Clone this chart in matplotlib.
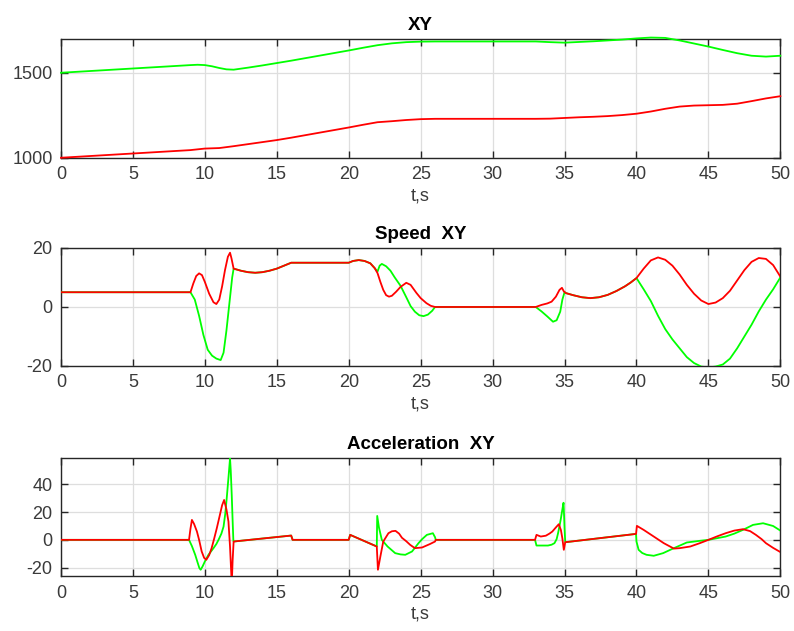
import matplotlib
matplotlib.use("Agg")
import matplotlib.pyplot as plt

plt.rcParams['font.family'] = ['Liberation Sans', 'DejaVu Sans']
plt.rcParams['axes.unicode_minus'] = False

# ---- position X (red) / Y (green), 0..50 s ----
t_pos_x = [0, 2, 4, 6, 8, 9, 10, 11, 12, 13, 14, 15, 16, 17, 18, 19, 20, 21, 22, 23,
           24, 25, 26, 30, 33, 34, 35, 36, 37, 38, 39, 40, 41, 42, 43, 44, 45, 46,
           47, 48, 49, 50]
pos_x = [1000, 1010, 1020, 1030, 1040, 1045, 1054, 1057, 1068, 1080, 1092, 1104, 1118,
         1133, 1148, 1163, 1178, 1194, 1209, 1215, 1222, 1227, 1229, 1229, 1229, 1230,
         1234, 1238, 1241, 1245, 1251, 1259, 1272, 1288, 1301, 1307, 1309, 1311, 1318,
         1333, 1349, 1362]

t_pos_y = [0, 2, 4, 6, 8, 9, 9.5, 10, 10.5, 11, 11.5, 12, 13, 14, 15, 16, 17, 18, 19, 20,
           21, 22, 23, 24, 25, 26, 33, 34, 35, 36, 37, 38, 39, 40, 41, 42, 43, 44, 45,
           46, 47, 48, 49, 50]
pos_y = [1500, 1510, 1520, 1530, 1540, 1545, 1547, 1545, 1538, 1528, 1520, 1518, 1530,
         1543, 1557, 1571, 1586, 1601, 1616, 1631, 1647, 1662, 1673, 1680, 1683, 1684,
         1684, 1680, 1677, 1681, 1685, 1690, 1695, 1702, 1707, 1705, 1690, 1672, 1654,
         1634, 1615, 1600, 1595, 1600]

# ---- speed ----
# stretches where both components run together
t_spd_common_a = [12.5, 13.0, 13.5, 14.0, 14.5, 15.0, 15.5, 16.0, 20.0, 20.3, 20.7,
                  21.1, 21.5, 21.8]
spd_common_a = [12.3, 11.8, 11.6, 11.8, 12.3, 13.0, 14.0, 15.0, 15.0, 15.6, 15.9,
                15.6, 14.8, 13.2]
t_spd_common_b = [35.1, 35.6, 36.2, 36.8, 37.4, 38.0, 38.6, 39.2, 39.6, 40.0]
spd_common_b = [4.7, 4.0, 3.3, 3.0, 3.3, 4.1, 5.4, 7.0, 8.3, 9.8]

t_spd_x1 = [0, 9.0, 9.2, 9.4, 9.6, 9.8, 10.0, 10.3, 10.6, 10.8, 11.0, 11.2, 11.4, 11.6,
            11.75, 11.85, 12.0]
spd_x1 = [5, 5, 8, 10.5, 11.4, 10.8, 8.5, 4.5, 1.6, 1.0, 2.5, 7, 12.5, 17, 18.4, 16.5, 13.0]
t_spd_x2 = [22.0, 22.2, 22.4, 22.6, 22.8, 23.0, 23.3, 23.6, 24.0, 24.3, 24.7, 25.0, 25.4,
            25.7, 26.0, 33.0, 33.4, 33.8, 34.1, 34.4, 34.65, 34.82, 34.95]
spd_x2 = [11.5, 8.5, 5.8, 4.0, 3.5, 3.8, 5.2, 6.8, 8.2, 7.5, 4.8, 3.0, 1.3, 0.4, 0, 0,
          0.7, 1.2, 1.8, 3.5, 5.8, 6.5, 5.3]
t_spd_x3 = [40.5, 41.0, 41.5, 42.0, 42.5, 43.0, 43.5, 44.0, 44.5, 45.0, 45.5, 46.0, 46.5,
            47.0, 47.5, 48.0, 48.5, 49.0, 49.5, 50.0]
spd_x3 = [13, 15.8, 16.8, 16, 14, 11, 7.5, 4.5, 2.2, 1, 1.5, 3, 5.5, 9, 12.5, 15.3, 16.6,
          16.3, 14.2, 10.3]

t_spd_y1 = [0, 9.0, 9.3, 9.6, 9.9, 10.2, 10.5, 10.8, 11.1, 11.3, 11.5, 11.7, 11.9, 12.0]
spd_y1 = [5, 5, 2.5, -3, -9.5, -14.5, -16.5, -17.5, -18, -15.5, -8, 1, 10, 13.0]
t_spd_y2 = [22.0, 22.15, 22.3, 22.6, 22.9, 23.2, 23.6, 24.0, 24.3, 24.6, 24.9, 25.2, 25.5,
            25.8, 26.0, 33.0, 33.4, 33.8, 34.2, 34.45, 34.7, 34.85, 35.0]
spd_y2 = [12, 14, 14.6, 13.8, 12.3, 10, 7.2, 3.3, 0.3, -1.6, -2.8, -3.1, -2.6, -1.3, 0, 0,
          -1.5, -3.2, -5.0, -4.5, -1.6, 2.5, 5.0]
t_spd_y3 = [40.5, 41.0, 41.5, 42.0, 42.5, 43.0, 43.5, 44.0, 44.5, 45.0, 45.5, 46.0, 46.5,
            47.0, 47.5, 48.0, 48.5, 49.0, 49.5, 50.0]
spd_y3 = [6, 2, -3, -7.5, -11, -14, -17, -19, -20.2, -20.5, -20.2, -19.5, -17.5, -14, -10,
          -6, -1.5, 2.5, 6, 10]

# ---- acceleration ----
t_acc_common_a = [12.0, 16.0, 16.1, 20.0, 20.1]
acc_common_a = [-1.2, 3.1, 0, 0, 3.6]
t_acc_common_b = [35.05, 39.97]
acc_common_b = [-1.7, 4.3]

t_acc_x1 = [0, 8.9, 9.0, 9.1, 9.25, 9.45, 9.6, 9.78, 9.95, 10.1, 10.3, 10.47, 10.65,
            10.83, 11.0, 11.2, 11.34, 11.5, 11.64, 11.75, 11.87, 11.93]
acc_x1 = [0, 0, 8, 14.4, 11.5, 6, 0, -8.4, -13, -14.4, -11, -6, 1, 8.4, 16, 25, 28.8, 22,
          13.2, -5, -32, -15]
t_acc_x2 = [21.95, 22.03, 22.2, 22.4, 22.76, 23.0, 23.25, 23.5, 23.7, 24.0, 24.27, 24.6,
            25.1, 25.65, 26.0, 26.05, 32.95, 33.05, 33.35, 33.7, 33.95, 34.15, 34.4, 34.6,
            34.75, 34.85, 34.95]
acc_x2 = [-4.8, -21.6, -12, -1.2, 4.8, 6.2, 6.5, 4.5, 1.5, -1.0, -3.6, -6, -5.5, -3, -1.2,
          0, 0, 3.6, 2.4, 3.0, 4.5, 6, 9, 11.3, 7, 1, -7.2]
t_acc_x3 = [40.03, 40.5, 41.2, 41.9, 42.6, 43.0, 43.74, 44.4, 45.0, 45.6, 46.2, 46.8,
            47.4, 47.9, 48.3, 48.7, 49.0, 49.5, 50.0]
acc_x3 = [10.1, 7.2, 2.4, -2.4, -6.3, -6.0, -4.8, -2.4, 0, 2.5, 4.8, 6.7, 7.7, 6.3, 3.6,
          0.5, -2.4, -5.8, -8.8]

t_acc_y1 = [0, 8.9, 9.1, 9.33, 9.5, 9.62, 9.71, 9.85, 10.0, 10.25, 10.6, 10.8, 10.95,
            11.15, 11.3, 11.42, 11.52, 11.65, 11.75, 11.8, 11.87, 11.93, 11.98]
acc_y1 = [0, 0, -4.5, -10.8, -16.5, -20.4, -21.6, -19, -15.6, -10.8, -6, -3, 0, 4.5, 9.6,
          19, 30, 46, 58.8, 50, 32, 14, 0]
t_acc_y2 = [21.95, 21.98, 22.1, 22.3, 22.7, 23.23, 23.6, 23.93, 24.4, 24.85, 25.1, 25.43,
            25.85, 26.0, 26.05, 32.95, 33.05, 33.85, 34.1, 34.3, 34.45, 34.55, 34.65,
            34.75, 34.85, 34.93, 34.97, 35.0]
acc_y2 = [-4.8, 17.3, 9, 0, -4.8, -9.6, -10.5, -10.8, -8.4, -2.4, 0.5, 3.6, 4.8, 1.9, 0,
          0, -4.1, -4.1, -3.5, -2.4, 0.5, 4.8, 10, 15.6, 22, 26.8, 17, 8.4]
t_acc_y3 = [40.0, 40.15, 40.4, 40.7, 41.2, 41.85, 42.6, 43.5, 44.4, 45.0, 45.6, 46.2,
            46.8, 47.4, 48.1, 48.8, 49.5, 50.0]
acc_y3 = [-1.2, -7.2, -9.5, -10.8, -11.5, -9.6, -6, -1.9, -0.7, 0, 1.2, 2.4, 4.5, 7.2,
          10.8, 12, 10, 6.7]

# assemble the full traces
t_spd_x = t_spd_x1 + t_spd_common_a + t_spd_x2 + t_spd_common_b + t_spd_x3
spd_x = spd_x1 + spd_common_a + spd_x2 + spd_common_b + spd_x3
t_spd_y = t_spd_y1 + t_spd_common_a + t_spd_y2 + t_spd_common_b + t_spd_y3
spd_y = spd_y1 + spd_common_a + spd_y2 + spd_common_b + spd_y3

t_acc_x = t_acc_x1 + t_acc_common_a + t_acc_x2 + t_acc_common_b + t_acc_x3
acc_x = acc_x1 + acc_common_a + acc_x2 + acc_common_b + acc_x3
t_acc_y = t_acc_y1 + t_acc_common_a + t_acc_y2 + t_acc_common_b + t_acc_y3
acc_y = acc_y1 + acc_common_a + acc_y2 + acc_common_b + acc_y3

xticks = [0, 5, 10, 15, 20, 25, 30, 35, 40, 45, 50]
GREEN = '#00ff00'
RED = '#ff0000'
DARK = '#262626'
LABEL = '#3a3a3a'

fig = plt.figure(figsize=(7.94, 6.31), dpi=100)
fig.patch.set_facecolor('white')

panels = [
    ([0.0768, 0.750, 0.906, 0.1886], 'XY', (t_pos_y, pos_y), (t_pos_x, pos_x),
     (1000, 1700), [1000, 1500], False),
    ([0.0768, 0.420, 0.906, 0.1870], 'Speed  XY', (t_spd_y, spd_y), (t_spd_x, spd_x),
     (-20, 20), [-20, 0, 20], True),
    ([0.0768, 0.0865, 0.906, 0.1870], 'Acceleration  XY', (t_acc_y, acc_y), (t_acc_x, acc_x),
     (-26.4, 58.8), [-20, 0, 20, 40], True),
]

for rect, title, green, red, ylim, yticks, clip in panels:
    ax = fig.add_axes(rect)
    ax.plot(green[0], green[1], color=GREEN, lw=1.3, clip_on=clip, zorder=3)
    ax.plot(red[0], red[1], color=RED, lw=1.3, clip_on=clip, zorder=4)
    ax.set_xlim(0, 50)
    ax.set_ylim(*ylim)
    ax.set_xticks(xticks)
    ax.set_yticks(yticks)
    ax.grid(True, color='#dedede', lw=0.9)
    ax.set_axisbelow(True)
    ax.tick_params(direction='in', length=5, width=1, color=DARK, labelcolor=LABEL,
                   labelsize=13, top=True, right=True, pad=6)
    for s in ax.spines.values():
        s.set_color(DARK)
        s.set_linewidth(1.0)
    ax.set_title(title, fontsize=13.5, fontweight='bold', color='black', pad=6.5)
    ax.set_xlabel('t,s', fontsize=13, color=LABEL, labelpad=3)

fig.savefig('out.png', dpi=100)
